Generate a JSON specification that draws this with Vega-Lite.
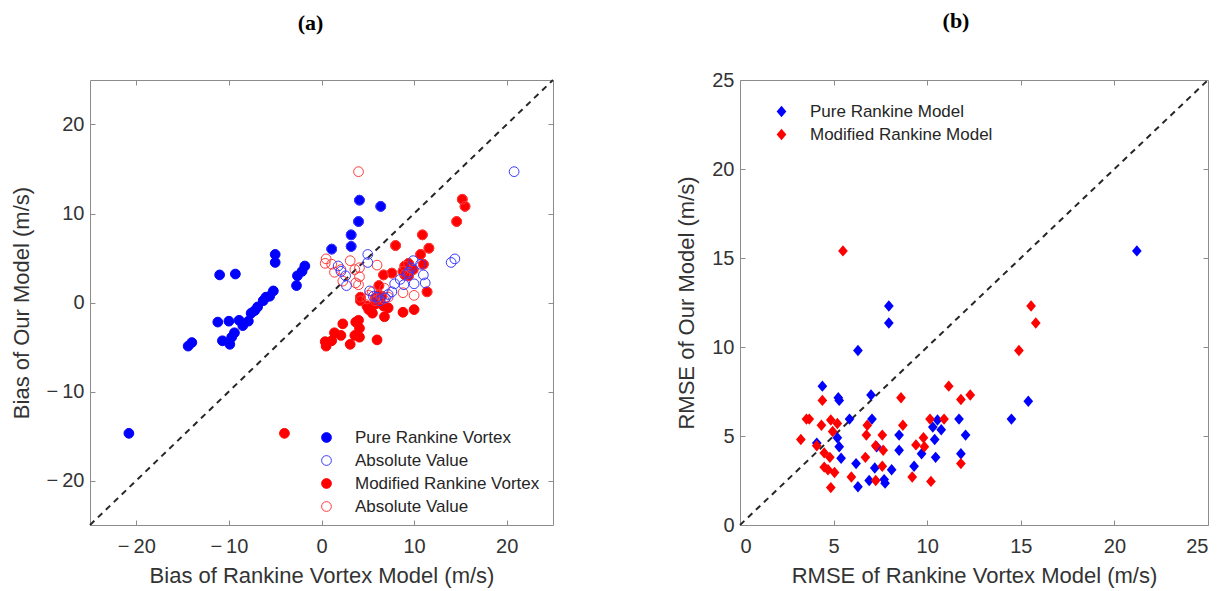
{
  "$schema": "https://vega.github.io/schema/vega-lite/v6.json",
  "background": "white",
  "padding": {"left": 9, "top": 9, "right": 5, "bottom": 5},
  "spacing": 120,
  "resolve": {"legend": {"fill": "independent", "stroke": "independent", "color": "independent"}},
  "config": {
    "font": "Liberation Sans",
    "view": {"stroke": "#8c8c8c", "strokeWidth": 1},
    "axis": {
      "domain": false,
      "grid": true,
      "gridColor": "#e4e4e4",
      "gridWidth": 1,
      "ticks": true,
      "tickSize": -5,
      "tickColor": "#8c8c8c",
      "labelFont": "Liberation Sans",
      "labelFontSize": 20,
      "labelColor": "#333333",
      "titleFont": "Liberation Sans",
      "titleFontSize": 22,
      "titleFontWeight": "normal",
      "titleColor": "#333333"
    },
    "axisX": {"labelPadding": 16, "titlePadding": 9},
    "axisY": {"labelPadding": 11, "titlePadding": 13},
    "legend": {
      "labelFont": "Liberation Sans",
      "labelFontSize": 17,
      "labelColor": "#262626",
      "labelLimit": 0,
      "rowPadding": 5,
      "padding": 4
    },
    "title": {
      "font": "Liberation Serif",
      "fontSize": 22,
      "fontWeight": "bold",
      "color": "#000000",
      "anchor": "middle",
      "frame": "group"
    }
  },
  "datasets": {
    "bias": [
      {"rk": -20.8, "our": -14.7, "series": "Pure Rankine Vortex"},
      {"rk": -14.4, "our": -4.9, "series": "Pure Rankine Vortex"},
      {"rk": -14.0, "our": -4.5, "series": "Pure Rankine Vortex"},
      {"rk": -11.0, "our": 3.1, "series": "Pure Rankine Vortex"},
      {"rk": -9.3, "our": 3.2, "series": "Pure Rankine Vortex"},
      {"rk": -11.2, "our": -2.2, "series": "Pure Rankine Vortex"},
      {"rk": -10.0, "our": -2.1, "series": "Pure Rankine Vortex"},
      {"rk": -8.9, "our": -2.0, "series": "Pure Rankine Vortex"},
      {"rk": -7.9, "our": -2.1, "series": "Pure Rankine Vortex"},
      {"rk": -10.7, "our": -4.3, "series": "Pure Rankine Vortex"},
      {"rk": -9.9, "our": -4.7, "series": "Pure Rankine Vortex"},
      {"rk": -9.7, "our": -3.9, "series": "Pure Rankine Vortex"},
      {"rk": -9.4, "our": -3.4, "series": "Pure Rankine Vortex"},
      {"rk": -8.5, "our": -2.6, "series": "Pure Rankine Vortex"},
      {"rk": -7.6, "our": -1.2, "series": "Pure Rankine Vortex"},
      {"rk": -7.2, "our": -0.9, "series": "Pure Rankine Vortex"},
      {"rk": -6.9, "our": -0.5, "series": "Pure Rankine Vortex"},
      {"rk": -6.3, "our": 0.2, "series": "Pure Rankine Vortex"},
      {"rk": -6.0, "our": 0.6, "series": "Pure Rankine Vortex"},
      {"rk": -5.6, "our": 0.7, "series": "Pure Rankine Vortex"},
      {"rk": -5.2, "our": 1.3, "series": "Pure Rankine Vortex"},
      {"rk": -5.0, "our": 5.4, "series": "Pure Rankine Vortex"},
      {"rk": -5.0, "our": 4.5, "series": "Pure Rankine Vortex"},
      {"rk": -2.7, "our": 1.9, "series": "Pure Rankine Vortex"},
      {"rk": -2.6, "our": 3.0, "series": "Pure Rankine Vortex"},
      {"rk": -2.1, "our": 3.5, "series": "Pure Rankine Vortex"},
      {"rk": -1.8, "our": 4.1, "series": "Pure Rankine Vortex"},
      {"rk": 1.1, "our": 6.0, "series": "Pure Rankine Vortex"},
      {"rk": 3.2, "our": 6.3, "series": "Pure Rankine Vortex"},
      {"rk": 3.2, "our": 7.6, "series": "Pure Rankine Vortex"},
      {"rk": 4.0, "our": 9.1, "series": "Pure Rankine Vortex"},
      {"rk": 4.1, "our": 11.5, "series": "Pure Rankine Vortex"},
      {"rk": 6.4, "our": 10.8, "series": "Pure Rankine Vortex"},

      {"rk": -4.0, "our": -14.7, "series": "Modified Rankine Vortex"},
      {"rk": 0.4, "our": -4.4, "series": "Modified Rankine Vortex"},
      {"rk": 0.5, "our": -4.9, "series": "Modified Rankine Vortex"},
      {"rk": 1.1, "our": -4.3, "series": "Modified Rankine Vortex"},
      {"rk": 1.4, "our": -3.4, "series": "Modified Rankine Vortex"},
      {"rk": 2.1, "our": -3.7, "series": "Modified Rankine Vortex"},
      {"rk": 2.3, "our": -2.4, "series": "Modified Rankine Vortex"},
      {"rk": 3.1, "our": -4.7, "series": "Modified Rankine Vortex"},
      {"rk": 3.6, "our": -3.7, "series": "Modified Rankine Vortex"},
      {"rk": 3.7, "our": -2.2, "series": "Modified Rankine Vortex"},
      {"rk": 4.0, "our": -2.0, "series": "Modified Rankine Vortex"},
      {"rk": 4.1, "our": -2.9, "series": "Modified Rankine Vortex"},
      {"rk": 4.1, "our": -3.9, "series": "Modified Rankine Vortex"},
      {"rk": 6.0, "our": -4.2, "series": "Modified Rankine Vortex"},
      {"rk": 4.2, "our": 0.6, "series": "Modified Rankine Vortex"},
      {"rk": 4.2, "our": 0.2, "series": "Modified Rankine Vortex"},
      {"rk": 4.9, "our": -0.4, "series": "Modified Rankine Vortex"},
      {"rk": 5.1, "our": -0.8, "series": "Modified Rankine Vortex"},
      {"rk": 5.5, "our": -1.2, "series": "Modified Rankine Vortex"},
      {"rk": 5.8, "our": 0.5, "series": "Modified Rankine Vortex"},
      {"rk": 5.8, "our": -0.2, "series": "Modified Rankine Vortex"},
      {"rk": 6.2, "our": 1.9, "series": "Modified Rankine Vortex"},
      {"rk": 6.2, "our": 0.9, "series": "Modified Rankine Vortex"},
      {"rk": 6.5, "our": 0.7, "series": "Modified Rankine Vortex"},
      {"rk": 6.8, "our": -1.6, "series": "Modified Rankine Vortex"},
      {"rk": 6.7, "our": -0.4, "series": "Modified Rankine Vortex"},
      {"rk": 7.2, "our": -0.6, "series": "Modified Rankine Vortex"},
      {"rk": 6.7, "our": 3.1, "series": "Modified Rankine Vortex"},
      {"rk": 7.6, "our": 3.3, "series": "Modified Rankine Vortex"},
      {"rk": 8.0, "our": 6.4, "series": "Modified Rankine Vortex"},
      {"rk": 8.8, "our": -1.1, "series": "Modified Rankine Vortex"},
      {"rk": 10.0, "our": -0.8, "series": "Modified Rankine Vortex"},
      {"rk": 8.8, "our": 3.5, "series": "Modified Rankine Vortex"},
      {"rk": 9.0, "our": 3.1, "series": "Modified Rankine Vortex"},
      {"rk": 9.4, "our": 3.0, "series": "Modified Rankine Vortex"},
      {"rk": 9.0, "our": 4.1, "series": "Modified Rankine Vortex"},
      {"rk": 9.4, "our": 4.4, "series": "Modified Rankine Vortex"},
      {"rk": 9.9, "our": 3.7, "series": "Modified Rankine Vortex"},
      {"rk": 10.7, "our": 5.4, "series": "Modified Rankine Vortex"},
      {"rk": 10.9, "our": 7.6, "series": "Modified Rankine Vortex"},
      {"rk": 11.0, "our": 4.3, "series": "Modified Rankine Vortex"},
      {"rk": 11.4, "our": 1.2, "series": "Modified Rankine Vortex"},
      {"rk": 11.6, "our": 6.1, "series": "Modified Rankine Vortex"},
      {"rk": 14.6, "our": 9.1, "series": "Modified Rankine Vortex"},
      {"rk": 15.2, "our": 11.6, "series": "Modified Rankine Vortex"},
      {"rk": 15.5, "our": 10.8, "series": "Modified Rankine Vortex"},

      {"rk": 4.0, "our": 14.7, "series": "Absolute Value (modified)"},
      {"rk": 0.4, "our": 4.4, "series": "Absolute Value (modified)"},
      {"rk": 0.5, "our": 4.9, "series": "Absolute Value (modified)"},
      {"rk": 1.1, "our": 4.3, "series": "Absolute Value (modified)"},
      {"rk": 1.4, "our": 3.4, "series": "Absolute Value (modified)"},
      {"rk": 2.1, "our": 3.7, "series": "Absolute Value (modified)"},
      {"rk": 2.3, "our": 2.4, "series": "Absolute Value (modified)"},
      {"rk": 3.1, "our": 4.7, "series": "Absolute Value (modified)"},
      {"rk": 3.6, "our": 3.7, "series": "Absolute Value (modified)"},
      {"rk": 3.7, "our": 2.2, "series": "Absolute Value (modified)"},
      {"rk": 4.0, "our": 2.0, "series": "Absolute Value (modified)"},
      {"rk": 4.1, "our": 2.9, "series": "Absolute Value (modified)"},
      {"rk": 4.1, "our": 3.9, "series": "Absolute Value (modified)"},
      {"rk": 6.0, "our": 4.2, "series": "Absolute Value (modified)"},
      {"rk": 4.2, "our": 0.6, "series": "Absolute Value (modified)"},
      {"rk": 4.2, "our": 0.2, "series": "Absolute Value (modified)"},
      {"rk": 4.9, "our": 0.4, "series": "Absolute Value (modified)"},
      {"rk": 5.1, "our": 0.8, "series": "Absolute Value (modified)"},
      {"rk": 5.5, "our": 1.2, "series": "Absolute Value (modified)"},
      {"rk": 5.8, "our": 0.5, "series": "Absolute Value (modified)"},
      {"rk": 5.8, "our": 0.2, "series": "Absolute Value (modified)"},
      {"rk": 6.2, "our": 1.9, "series": "Absolute Value (modified)"},
      {"rk": 6.2, "our": 0.9, "series": "Absolute Value (modified)"},
      {"rk": 6.5, "our": 0.7, "series": "Absolute Value (modified)"},
      {"rk": 6.8, "our": 1.6, "series": "Absolute Value (modified)"},
      {"rk": 6.7, "our": 0.4, "series": "Absolute Value (modified)"},
      {"rk": 7.2, "our": 0.6, "series": "Absolute Value (modified)"},
      {"rk": 6.7, "our": 3.1, "series": "Absolute Value (modified)"},
      {"rk": 7.6, "our": 3.3, "series": "Absolute Value (modified)"},
      {"rk": 8.0, "our": 6.4, "series": "Absolute Value (modified)"},
      {"rk": 8.8, "our": 1.1, "series": "Absolute Value (modified)"},
      {"rk": 10.0, "our": 0.8, "series": "Absolute Value (modified)"},
      {"rk": 8.8, "our": 3.5, "series": "Absolute Value (modified)"},
      {"rk": 9.0, "our": 3.1, "series": "Absolute Value (modified)"},
      {"rk": 9.4, "our": 3.0, "series": "Absolute Value (modified)"},
      {"rk": 9.0, "our": 4.1, "series": "Absolute Value (modified)"},
      {"rk": 9.4, "our": 4.4, "series": "Absolute Value (modified)"},
      {"rk": 9.9, "our": 3.7, "series": "Absolute Value (modified)"},
      {"rk": 10.7, "our": 5.4, "series": "Absolute Value (modified)"},
      {"rk": 10.9, "our": 7.6, "series": "Absolute Value (modified)"},
      {"rk": 11.0, "our": 4.3, "series": "Absolute Value (modified)"},
      {"rk": 11.4, "our": 1.2, "series": "Absolute Value (modified)"},
      {"rk": 11.6, "our": 6.1, "series": "Absolute Value (modified)"},
      {"rk": 14.6, "our": 9.1, "series": "Absolute Value (modified)"},
      {"rk": 15.2, "our": 11.6, "series": "Absolute Value (modified)"},
      {"rk": 15.5, "our": 10.8, "series": "Absolute Value (modified)"},

      {"rk": 20.8, "our": 14.7, "series": "Absolute Value (pure)"},
      {"rk": 14.4, "our": 4.9, "series": "Absolute Value (pure)"},
      {"rk": 14.0, "our": 4.5, "series": "Absolute Value (pure)"},
      {"rk": 11.0, "our": 3.1, "series": "Absolute Value (pure)"},
      {"rk": 9.3, "our": 3.2, "series": "Absolute Value (pure)"},
      {"rk": 11.2, "our": 2.2, "series": "Absolute Value (pure)"},
      {"rk": 10.0, "our": 2.1, "series": "Absolute Value (pure)"},
      {"rk": 8.9, "our": 2.0, "series": "Absolute Value (pure)"},
      {"rk": 7.9, "our": 2.1, "series": "Absolute Value (pure)"},
      {"rk": 10.7, "our": 4.3, "series": "Absolute Value (pure)"},
      {"rk": 9.9, "our": 4.7, "series": "Absolute Value (pure)"},
      {"rk": 9.7, "our": 3.9, "series": "Absolute Value (pure)"},
      {"rk": 9.4, "our": 3.4, "series": "Absolute Value (pure)"},
      {"rk": 8.5, "our": 2.6, "series": "Absolute Value (pure)"},
      {"rk": 7.6, "our": 1.2, "series": "Absolute Value (pure)"},
      {"rk": 7.2, "our": 0.9, "series": "Absolute Value (pure)"},
      {"rk": 6.9, "our": 0.5, "series": "Absolute Value (pure)"},
      {"rk": 6.3, "our": 0.2, "series": "Absolute Value (pure)"},
      {"rk": 6.0, "our": 0.6, "series": "Absolute Value (pure)"},
      {"rk": 5.6, "our": 0.7, "series": "Absolute Value (pure)"},
      {"rk": 5.2, "our": 1.3, "series": "Absolute Value (pure)"},
      {"rk": 5.0, "our": 5.4, "series": "Absolute Value (pure)"},
      {"rk": 5.0, "our": 4.5, "series": "Absolute Value (pure)"},
      {"rk": 2.7, "our": 1.9, "series": "Absolute Value (pure)"},
      {"rk": 2.6, "our": 3.0, "series": "Absolute Value (pure)"},
      {"rk": 2.1, "our": 3.5, "series": "Absolute Value (pure)"},
      {"rk": 1.8, "our": 4.1, "series": "Absolute Value (pure)"},
      {"rk": 1.1, "our": 6.0, "series": "Absolute Value (pure)"},
      {"rk": 3.2, "our": 6.3, "series": "Absolute Value (pure)"},
      {"rk": 3.2, "our": 7.6, "series": "Absolute Value (pure)"},
      {"rk": 4.0, "our": 9.1, "series": "Absolute Value (pure)"},
      {"rk": 4.1, "our": 11.5, "series": "Absolute Value (pure)"},
      {"rk": 6.4, "our": 10.8, "series": "Absolute Value (pure)"}
    ],
    "rmse": [
      {"rk": 21.2, "our": 15.4, "model": "Pure Rankine Model"},
      {"rk": 7.95, "our": 12.3, "model": "Pure Rankine Model"},
      {"rk": 7.95, "our": 11.35, "model": "Pure Rankine Model"},
      {"rk": 6.3, "our": 9.8, "model": "Pure Rankine Model"},
      {"rk": 4.4, "our": 7.8, "model": "Pure Rankine Model"},
      {"rk": 5.25, "our": 7.15, "model": "Pure Rankine Model"},
      {"rk": 5.3, "our": 7.0, "model": "Pure Rankine Model"},
      {"rk": 7.0, "our": 7.3, "model": "Pure Rankine Model"},
      {"rk": 5.85, "our": 5.95, "model": "Pure Rankine Model"},
      {"rk": 7.05, "our": 5.95, "model": "Pure Rankine Model"},
      {"rk": 11.7, "our": 5.95, "model": "Pure Rankine Model"},
      {"rk": 14.5, "our": 5.95, "model": "Pure Rankine Model"},
      {"rk": 15.4, "our": 6.95, "model": "Pure Rankine Model"},
      {"rk": 5.2, "our": 4.9, "model": "Pure Rankine Model"},
      {"rk": 5.3, "our": 4.4, "model": "Pure Rankine Model"},
      {"rk": 5.4, "our": 3.75, "model": "Pure Rankine Model"},
      {"rk": 4.1, "our": 4.6, "model": "Pure Rankine Model"},
      {"rk": 6.2, "our": 3.45, "model": "Pure Rankine Model"},
      {"rk": 6.3, "our": 2.15, "model": "Pure Rankine Model"},
      {"rk": 6.9, "our": 2.5, "model": "Pure Rankine Model"},
      {"rk": 7.2, "our": 3.2, "model": "Pure Rankine Model"},
      {"rk": 7.7, "our": 2.55, "model": "Pure Rankine Model"},
      {"rk": 7.75, "our": 2.35, "model": "Pure Rankine Model"},
      {"rk": 8.1, "our": 3.1, "model": "Pure Rankine Model"},
      {"rk": 8.5, "our": 5.05, "model": "Pure Rankine Model"},
      {"rk": 8.5, "our": 4.2, "model": "Pure Rankine Model"},
      {"rk": 9.3, "our": 3.3, "model": "Pure Rankine Model"},
      {"rk": 9.7, "our": 4.0, "model": "Pure Rankine Model"},
      {"rk": 10.4, "our": 4.8, "model": "Pure Rankine Model"},
      {"rk": 10.45, "our": 3.8, "model": "Pure Rankine Model"},
      {"rk": 10.3, "our": 5.5, "model": "Pure Rankine Model"},
      {"rk": 10.55, "our": 5.9, "model": "Pure Rankine Model"},
      {"rk": 10.75, "our": 5.35, "model": "Pure Rankine Model"},
      {"rk": 11.8, "our": 4.0, "model": "Pure Rankine Model"},
      {"rk": 12.05, "our": 5.05, "model": "Pure Rankine Model"},
      {"rk": 7.3, "our": 4.4, "model": "Pure Rankine Model"},

      {"rk": 5.5, "our": 15.4, "model": "Modified Rankine Model"},
      {"rk": 15.55, "our": 12.3, "model": "Modified Rankine Model"},
      {"rk": 15.8, "our": 11.35, "model": "Modified Rankine Model"},
      {"rk": 14.9, "our": 9.8, "model": "Modified Rankine Model"},
      {"rk": 11.15, "our": 7.8, "model": "Modified Rankine Model"},
      {"rk": 11.8, "our": 7.05, "model": "Modified Rankine Model"},
      {"rk": 12.3, "our": 7.3, "model": "Modified Rankine Model"},
      {"rk": 4.4, "our": 7.0, "model": "Modified Rankine Model"},
      {"rk": 8.6, "our": 7.15, "model": "Modified Rankine Model"},
      {"rk": 3.55, "our": 5.95, "model": "Modified Rankine Model"},
      {"rk": 3.7, "our": 5.95, "model": "Modified Rankine Model"},
      {"rk": 4.85, "our": 5.9, "model": "Modified Rankine Model"},
      {"rk": 5.2, "our": 5.7, "model": "Modified Rankine Model"},
      {"rk": 10.15, "our": 5.95, "model": "Modified Rankine Model"},
      {"rk": 10.9, "our": 5.95, "model": "Modified Rankine Model"},
      {"rk": 4.35, "our": 5.6, "model": "Modified Rankine Model"},
      {"rk": 4.95, "our": 5.25, "model": "Modified Rankine Model"},
      {"rk": 6.8, "our": 5.6, "model": "Modified Rankine Model"},
      {"rk": 8.7, "our": 5.6, "model": "Modified Rankine Model"},
      {"rk": 3.25, "our": 4.8, "model": "Modified Rankine Model"},
      {"rk": 4.1, "our": 4.45, "model": "Modified Rankine Model"},
      {"rk": 4.5, "our": 4.05, "model": "Modified Rankine Model"},
      {"rk": 4.8, "our": 3.8, "model": "Modified Rankine Model"},
      {"rk": 6.75, "our": 5.05, "model": "Modified Rankine Model"},
      {"rk": 7.6, "our": 5.05, "model": "Modified Rankine Model"},
      {"rk": 7.25, "our": 4.45, "model": "Modified Rankine Model"},
      {"rk": 7.65, "our": 4.2, "model": "Modified Rankine Model"},
      {"rk": 6.7, "our": 3.8, "model": "Modified Rankine Model"},
      {"rk": 7.6, "our": 3.3, "model": "Modified Rankine Model"},
      {"rk": 4.5, "our": 3.25, "model": "Modified Rankine Model"},
      {"rk": 4.7, "our": 3.1, "model": "Modified Rankine Model"},
      {"rk": 5.05, "our": 2.95, "model": "Modified Rankine Model"},
      {"rk": 5.95, "our": 2.7, "model": "Modified Rankine Model"},
      {"rk": 4.85, "our": 2.1, "model": "Modified Rankine Model"},
      {"rk": 7.25, "our": 2.5, "model": "Modified Rankine Model"},
      {"rk": 9.2, "our": 2.7, "model": "Modified Rankine Model"},
      {"rk": 9.4, "our": 4.5, "model": "Modified Rankine Model"},
      {"rk": 9.8, "our": 4.9, "model": "Modified Rankine Model"},
      {"rk": 9.85, "our": 4.4, "model": "Modified Rankine Model"},
      {"rk": 10.2, "our": 2.45, "model": "Modified Rankine Model"},
      {"rk": 11.8, "our": 3.45, "model": "Modified Rankine Model"}
    ]
  },
  "hconcat": [
    {
      "title": {"text": "(a)", "dx": -11, "offset": 44},
      "width": 463,
      "height": 445,
      "resolve": {"axis": {"x": "independent", "y": "independent"}},
      "layer": [
        {
          "data": {"values": [{"x0": -25, "y0": -25, "x1": 25, "y1": 25}]},
          "mark": {"type": "rule", "color": "#262626", "strokeWidth": 2, "strokeDash": [6, 5]},
          "encoding": {
            "x": {
              "field": "x0", "type": "quantitative", "scale": {"domain": [-25, 25], "nice": false},
              "axis": {"orient": "top", "values": [-20, -10, 0, 10, 20], "labels": false, "title": null, "grid": false}
            },
            "y": {
              "field": "y0", "type": "quantitative", "scale": {"domain": [-25, 25], "nice": false},
              "axis": {"orient": "right", "values": [-20, -10, 0, 10, 20], "labels": false, "title": null, "grid": false}
            },
            "x2": {"field": "x1"},
            "y2": {"field": "y1"}
          }
        },
        {
          "data": {"name": "bias"},
          "mark": {"type": "point", "shape": "circle", "size": 95, "strokeWidth": 1, "opacity": 1},
          "encoding": {
            "x": {
              "field": "rk", "type": "quantitative",
              "scale": {"domain": [-25, 25], "nice": false},
              "axis": {
                "title": "Bias of Rankine Vortex Model (m/s)",
                "values": [-20, -10, 0, 10, 20],
                "labelExpr": "datum.value < 0 ? '\u2212\u2009' + abs(datum.value) : datum.label"
              }
            },
            "y": {
              "field": "our", "type": "quantitative",
              "scale": {"domain": [-25, 25], "nice": false},
              "axis": {
                "title": "Bias of Our Model (m/s)",
                "values": [-20, -10, 0, 10, 20],
                "labelExpr": "datum.value < 0 ? '\u2212\u2009' + abs(datum.value) : datum.label"
              }
            },
            "fill": {
              "field": "series", "type": "nominal",
              "scale": {
                "domain": ["Pure Rankine Vortex", "Absolute Value (pure)", "Modified Rankine Vortex", "Absolute Value (modified)"],
                "range": ["#0000ff", "transparent", "#ff0000", "transparent"]
              },
              "legend": {
                "title": null,
                "orient": "none",
                "legendX": 202,
                "legendY": 345,
                "fillColor": "white",
                "symbolOffset": 22,
                "labelOffset": 20,
                "symbolSize": 95,
                "symbolStrokeWidth": 1,
                "labelExpr": "indexof(datum.label, 'Absolute') === 0 ? 'Absolute Value' : datum.label"
              }
            },
            "stroke": {
              "field": "series", "type": "nominal",
              "scale": {
                "domain": ["Pure Rankine Vortex", "Absolute Value (pure)", "Modified Rankine Vortex", "Absolute Value (modified)"],
                "range": ["#0000ff", "#3a3aff", "#ff0000", "#ff3a3a"]
              },
              "legend": {
                "title": null,
                "orient": "none",
                "legendX": 202,
                "legendY": 345,
                "fillColor": "white",
                "symbolOffset": 22,
                "labelOffset": 20,
                "symbolSize": 95,
                "symbolStrokeWidth": 1,
                "labelExpr": "indexof(datum.label, 'Absolute') === 0 ? 'Absolute Value' : datum.label"
              }
            }
          }
        }
      ]
    },
    {
      "title": {"text": "(b)", "dx": -18, "offset": 37},
      "width": 468,
      "height": 445,
      "resolve": {"axis": {"x": "independent", "y": "independent"}},
      "layer": [
        {
          "data": {"values": [{"x0": 0, "y0": 0, "x1": 25, "y1": 25}]},
          "mark": {"type": "rule", "color": "#262626", "strokeWidth": 2, "strokeDash": [6, 5]},
          "encoding": {
            "x": {
              "field": "x0", "type": "quantitative", "scale": {"domain": [0, 25], "nice": false},
              "axis": {"orient": "top", "values": [5, 10, 15, 20], "labels": false, "title": null, "grid": false}
            },
            "y": {
              "field": "y0", "type": "quantitative", "scale": {"domain": [0, 25], "nice": false},
              "axis": {"orient": "right", "values": [5, 10, 15, 20], "labels": false, "title": null, "grid": false}
            },
            "x2": {"field": "x1"},
            "y2": {"field": "y1"}
          }
        },
        {
          "data": {"name": "rmse"},
          "mark": {"type": "point", "shape": "M0,-1L0.85,0L0,1L-0.85,0Z", "size": 130, "filled": true, "opacity": 1, "strokeWidth": 0},
          "encoding": {
            "x": {
              "field": "rk", "type": "quantitative",
              "scale": {"domain": [0, 25], "nice": false},
              "axis": {"title": "RMSE of Rankine Vortex Model (m/s)", "values": [0, 5, 10, 15, 20, 25]}
            },
            "y": {
              "field": "our", "type": "quantitative",
              "scale": {"domain": [0, 25], "nice": false},
              "axis": {"title": "RMSE of Our Model (m/s)", "values": [0, 5, 10, 15, 20, 25]}
            },
            "color": {
              "field": "model", "type": "nominal",
              "scale": {"domain": ["Pure Rankine Model", "Modified Rankine Model"], "range": ["#0000ff", "#ff0000"]},
              "legend": {
                "title": null,
                "orient": "none",
                "legendX": 29,
                "legendY": 19,
                "symbolType": "M0,-1L0.85,0L0,1L-0.85,0Z",
                "symbolSize": 130,
                "labelOffset": 20
              }
            }
          }
        }
      ]
    }
  ]
}
